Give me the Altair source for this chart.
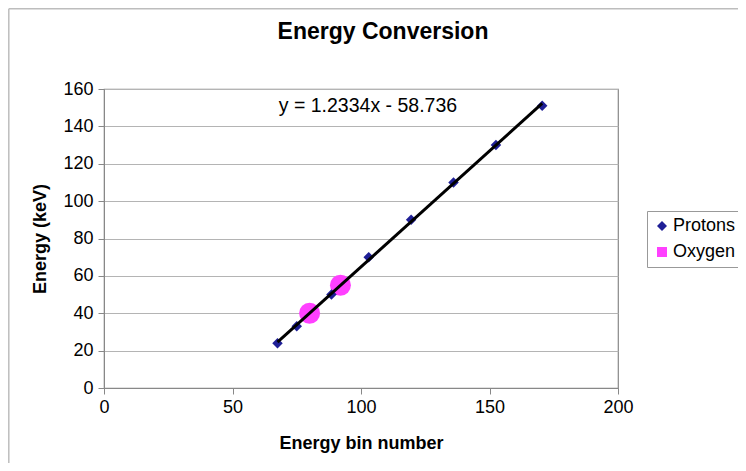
import altair as alt
import pandas as pd

# Data
proton_bin = [67.5, 75.0, 88.5, 103.0, 119.5, 136.0, 152.5, 170.5]
proton_energy = [24, 33, 50, 70, 90, 110, 130, 151]
oxygen_bin = [80.0, 92.0]
oxygen_energy = [40, 55]
series_names = ["Protons", "Oxygen"]
series_colors = ["#1f1f96", "#ff40ff"]
series_shapes = ["diamond", "square"]
x_ticks = [0, 50, 100, 150, 200]
y_ticks = [0, 20, 40, 60, 80, 100, 120, 140, 160]
equation_text = "y = 1.2334x - 58.736"
title_text = "Energy Conversion"

protons = pd.DataFrame({"bin": proton_bin, "energy": proton_energy, "series": "Protons"})
oxygen = pd.DataFrame({"bin": oxygen_bin, "energy": oxygen_energy, "series": "Oxygen"})

FONT = "Liberation Sans"

x_enc = alt.X("bin:Q", scale=alt.Scale(domain=[0, 200], nice=False),
              axis=alt.Axis(values=x_ticks, title="Energy bin number", grid=False,
                            labelOverlap=False, labelFlush=False))
y_enc = alt.Y("energy:Q", scale=alt.Scale(domain=[0, 160], nice=False),
              axis=alt.Axis(values=y_ticks, title="Energy (keV)", grid=True,
                            labelOverlap=False, labelFlush=False))

color_scale = alt.Scale(domain=series_names, range=series_colors)
shape_scale = alt.Scale(domain=series_names, range=series_shapes)
leg = alt.Legend(title=None, orient="none", legendX=543, legendY=122)

one = pd.DataFrame({"a": [0]})
frame_left = alt.Chart(one).mark_rule(color="#bdbdbd", strokeWidth=1.5).encode(
    x=alt.value(-95.2), y=alt.value(-80.2), y2=alt.value(380))
frame_top = alt.Chart(one).mark_rule(color="#bdbdbd", strokeWidth=1.5).encode(
    x=alt.value(-95.2), x2=alt.value(640), y=alt.value(-80.2))

title = alt.Chart(pd.DataFrame({"t": [title_text]})).mark_text(
    font=FONT, fontSize=23, fontWeight="bold", align="center", baseline="middle",
    color="black"
).encode(x=alt.value(279), y=alt.value(-57), text="t:N")

oxy_layer = alt.Chart(oxygen).mark_point(filled=True, opacity=1, size=440).encode(
    x=x_enc, y=y_enc,
    color=alt.Color("series:N", scale=color_scale, legend=leg),
    shape=alt.value("circle"),
)

proton_layer = alt.Chart(protons).mark_point(filled=True, opacity=1, size=110).encode(
    x=x_enc, y=y_enc,
    color=alt.Color("series:N", scale=color_scale, legend=leg),
    shape=alt.Shape("series:N", scale=shape_scale, legend=leg),
)

fit = alt.Chart(protons).transform_regression("bin", "energy").mark_line(
    color="black", strokeWidth=3
).encode(x=x_enc, y=y_enc)

eq = alt.Chart(pd.DataFrame({"t": [equation_text], "bin": [68], "energy": [151]})).mark_text(
    font=FONT, fontSize=19.5, align="left", baseline="middle", color="black"
).encode(x=x_enc, y=y_enc, text="t:N")

chart = alt.layer(frame_left, frame_top, title, oxy_layer, proton_layer, fit, eq).resolve_scale(
    color="shared", shape="shared"
).properties(
    width=514, height=299,
    autosize=alt.AutoSizeParams(type="none"),
    padding={"left": 96, "top": 81, "right": 120, "bottom": 75},
    background="white",
).configure_view(
    stroke="#888888", strokeWidth=1.2
).configure_axis(
    labelFont=FONT, labelFontSize=18, labelColor="black",
    titleFont=FONT, titleFontSize=18, titleFontWeight="bold", titleColor="black",
    domainColor="#888888", tickColor="#888888", tickSize=6,
    gridColor="#b4b4b4", gridWidth=1.2,
).configure_axisY(
    labelPadding=5, titlePadding=13,
).configure_axisX(
    labelPadding=4, titlePadding=18,
).configure_legend(
    labelFont=FONT, labelFontSize=18, labelColor="black",
    strokeColor="#999999", fillColor="white", padding=6,
    symbolSize=100, symbolStrokeWidth=0, rowPadding=8, labelOffset=2,
)

chart.save("out.html", embed_options={"renderer": "svg", "actions": False})
